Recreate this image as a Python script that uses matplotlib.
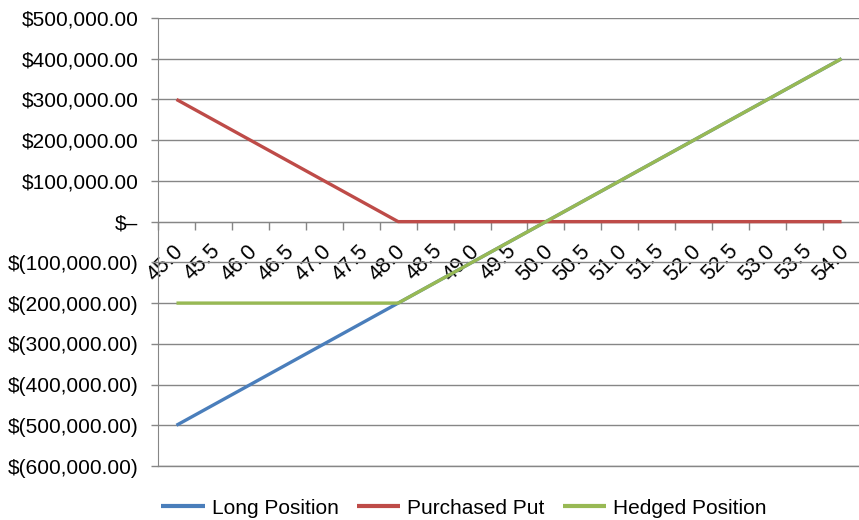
import matplotlib
matplotlib.use("Agg")
import matplotlib.pyplot as plt
from matplotlib.ticker import FixedLocator, FuncFormatter, NullFormatter, FixedFormatter
from matplotlib.transforms import ScaledTranslation

plt.rcParams['font.family'] = ['Liberation Sans', 'DejaVu Sans']

# Share price at expiration (category axis)
prices = ["45.0", "45.5", "46.0", "46.5", "47.0", "47.5", "48.0", "48.5", "49.0", "49.5",
          "50.0", "50.5", "51.0", "51.5", "52.0", "52.5", "53.0", "53.5", "54.0"]

long_position = [-500000, -450000, -400000, -350000, -300000, -250000, -200000, -150000,
                 -100000, -50000, 0, 50000, 100000, 150000, 200000, 250000, 300000,
                 350000, 400000]
purchased_put = [300000, 250000, 200000, 150000, 100000, 50000, 0, 0, 0, 0, 0, 0, 0, 0,
                 0, 0, 0, 0, 0]
hedged_position = [-200000, -200000, -200000, -200000, -200000, -200000, -200000, -150000,
                   -100000, -50000, 0, 50000, 100000, 150000, 200000, 250000, 300000,
                   350000, 400000]

y_ticks = list(range(-600000, 500001, 100000))

fig = plt.figure(figsize=(8.59, 5.20), dpi=100)
ax = fig.add_axes([158 / 859, 1 - 466 / 520, (860 - 158) / 859, (466 - 18) / 520])

x = list(range(len(prices)))
grey = "#868686"
fs_y = 15
fs_x = 15.5

ax.plot(x, long_position, color="#4A7EBB", lw=2.4, solid_capstyle="butt", label="Long Position", zorder=3)
ax.plot(x, purchased_put, color="#BE4B48", lw=2.4, solid_capstyle="butt", label="Purchased Put", zorder=4)
ax.plot(x, hedged_position, color="#98B954", lw=2.4, solid_capstyle="butt", label="Hedged Position", zorder=5)

ax.set_xlim(-0.5, len(prices) - 0.5)
ax.set_ylim(y_ticks[0], y_ticks[-1])

# horizontal gridlines
ax.set_yticks(y_ticks)
ax.yaxis.grid(True, color=grey, lw=1)
ax.set_axisbelow(True)
ax.axhline(y_ticks[0], color=grey, lw=1, clip_on=False, zorder=1)


def money(v, pos=None):
    if v == 0:
        return "$\u2013"
    if v < 0:
        return "$({:,.2f})".format(-v)
    return "${:,.2f}".format(v)


ax.yaxis.set_major_formatter(FuncFormatter(money))
ax.tick_params(axis="y", length=5, width=1, color=grey, labelsize=fs_y, pad=9)

# category axis crossing at zero
for s in ("top", "right"):
    ax.spines[s].set_visible(False)
ax.spines["left"].set_color(grey)
ax.spines["bottom"].set_color(grey)
ax.spines["bottom"].set_position(("data", 0))
ax.spines["bottom"].set_zorder(2)

ax.xaxis.set_major_locator(FixedLocator([i - 0.5 for i in range(len(prices) + 1)]))
ax.xaxis.set_major_formatter(NullFormatter())
ax.xaxis.set_minor_locator(FixedLocator(x))
ax.xaxis.set_minor_formatter(FixedFormatter(prices))
ax.tick_params(axis="x", which="major", length=6, width=1, color=grey)
ax.tick_params(axis="x", which="minor", length=0, labelsize=fs_x, pad=19)
nudge = ScaledTranslation(4 / 100, 0, fig.dpi_scale_trans)
for lbl in ax.xaxis.get_minorticklabels():
    lbl.set_rotation(45)
    lbl.set_rotation_mode("anchor")
    lbl.set_horizontalalignment("right")
    lbl.set_verticalalignment("center")
    lbl.set_transform(lbl.get_transform() + nudge)

fig.legend(loc="center", bbox_to_anchor=(464 / 859, 1 - 508 / 520), ncol=3, frameon=False,
           fontsize=fs_y, handlelength=2.1, handletextpad=0.34, columnspacing=0.85)
for h in fig.legends[0].get_lines():
    h.set_linewidth(3)

fig.savefig("out.png", dpi=100)
